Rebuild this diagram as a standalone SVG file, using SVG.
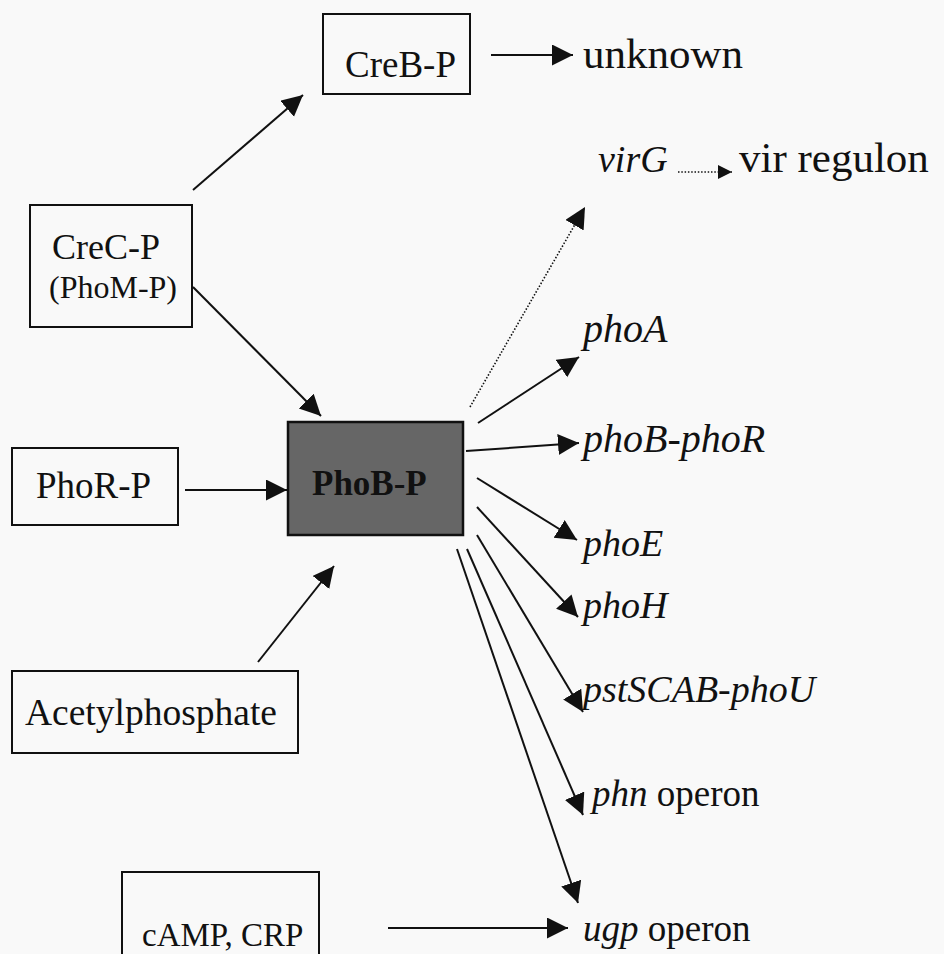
<svg xmlns="http://www.w3.org/2000/svg" width="944" height="954" viewBox="0 0 944 954">
<style>
.bg{fill:#f9f9f9}
.box{fill:none;stroke:#111;stroke-width:2}
.dark{fill:#666;stroke:#111;stroke-width:2.5}
.t{font-family:"Liberation Serif","Times New Roman",serif;fill:#111;font-size:37px}
.l{font-size:38px}
.i{font-style:italic}
.c{stroke:#111;stroke-width:2;fill:none}
.d{stroke:#111;stroke-width:1.6;stroke-dasharray:1.5,1.8;fill:none}
</style>
<defs>
<marker id="ah" markerUnits="userSpaceOnUse" markerWidth="23" markerHeight="23" refX="21" refY="10.5" orient="auto" viewBox="0 0 23 23">
<path d="M0,0 L21,10.5 L0,21 z" fill="#111"/>
</marker>
<marker id="ahs" markerUnits="userSpaceOnUse" markerWidth="16" markerHeight="16" refX="14" refY="7" orient="auto" viewBox="0 0 16 16">
<path d="M0,0 L14,7 L0,14 z" fill="#111"/>
</marker>
</defs>
<rect class="bg" width="944" height="954"/>
<g id="connectors">
<line class="c" x1="491" y1="55" x2="573" y2="55" marker-end="url(#ah)"/>
<line class="c" x1="193" y1="190" x2="303" y2="95" marker-end="url(#ah)"/>
<line class="c" x1="193" y1="287" x2="321" y2="416" marker-end="url(#ah)"/>
<line class="c" x1="185" y1="490" x2="287" y2="490" marker-end="url(#ah)"/>
<line class="c" x1="258" y1="662" x2="334" y2="566" marker-end="url(#ah)"/>
<line class="c" x1="388" y1="928" x2="568" y2="928" marker-end="url(#ah)"/>
<line class="d" x1="470" y1="407" x2="585" y2="207" marker-end="url(#ah)"/>
<line class="d" x1="678" y1="172" x2="732" y2="172" marker-end="url(#ahs)"/>
<line class="c" x1="478" y1="423" x2="579" y2="357" marker-end="url(#ah)"/>
<line class="c" x1="466" y1="451" x2="579" y2="443" marker-end="url(#ah)"/>
<line class="c" x1="477" y1="478" x2="577" y2="540" marker-end="url(#ah)"/>
<line class="c" x1="477" y1="507" x2="578" y2="617" marker-end="url(#ah)"/>
<line class="c" x1="477" y1="535" x2="583" y2="712" marker-end="url(#ah)"/>
<line class="c" x1="467" y1="549" x2="583" y2="815" marker-end="url(#ah)"/>
<line class="c" x1="457" y1="549" x2="578" y2="903" marker-end="url(#ah)"/>
</g>
<g id="creb">
<rect class="box" x="323" y="14" width="147" height="80"/>
<text class="t" x="345" y="77">CreB-P</text>
</g>
<g id="unknown"><text class="t" x="583" y="68" style="font-size:43px">unknown</text></g>
<g id="virg"><text class="t i l" x="598" y="172">virG</text></g>
<g id="virregulon"><text class="t" x="739" y="172" style="font-size:43px">vir regulon</text></g>
<g id="crec">
<rect class="box" x="30" y="205" width="162" height="122"/>
<text class="t" x="52" y="259" style="font-size:36px">CreC-P</text>
<text class="t" x="49" y="298" style="font-size:32px">(PhoM-P)</text>
</g>
<g id="phob">
<rect class="dark" x="288" y="422" width="175" height="113"/>
<text class="t" x="312" y="495" font-weight="bold" style="font-size:35px">PhoB-P</text>
</g>
<g id="phor">
<rect class="box" x="12" y="448" width="166" height="77"/>
<text class="t" x="36" y="498">PhoR-P</text>
</g>
<g id="acetyl">
<rect class="box" x="12" y="671" width="286" height="82"/>
<text class="t" x="25" y="725" textLength="252" lengthAdjust="spacingAndGlyphs">Acetylphosphate</text>
</g>
<g id="camp">
<rect class="box" x="122" y="872" width="197" height="90"/>
<text class="t" x="142" y="946" style="font-size:33px">cAMP, CRP</text>
</g>
<g id="phoa"><text class="t i" x="583" y="342" style="font-size:40px">phoA</text></g>
<g id="phobphor"><text class="t i" x="583" y="452" style="font-size:40px">phoB-phoR</text></g>
<g id="phoe"><text class="t i l" x="583" y="556">phoE</text></g>
<g id="phoh"><text class="t i l" x="583" y="618">phoH</text></g>
<g id="pst"><text class="t i l" x="583" y="702">pstSCAB-phoU</text></g>
<g id="phn"><text class="t" x="592" y="806"><tspan class="i">phn</tspan> operon</text></g>
<g id="ugp"><text class="t" x="583" y="941"><tspan class="i">ugp</tspan> operon</text></g>
</svg>
